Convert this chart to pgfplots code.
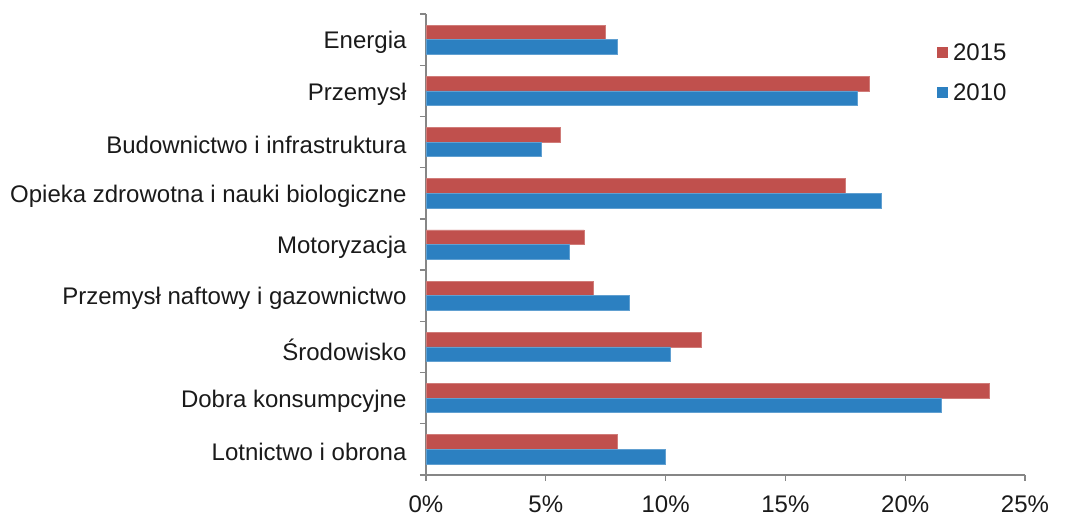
\documentclass[border=0pt]{standalone}
\usepackage{pgfplots}
\pgfplotsset{compat=1.18}
\usepackage{fontspec}
\setmainfont{Liberation Sans}
\definecolor{cred}{RGB}{192,80,77}
\definecolor{cblue}{RGB}{44,128,193}
\definecolor{axgray}{RGB}{134,134,134}
\definecolor{txt}{RGB}{26,26,26}
\begin{document}
\begin{tikzpicture}
\begin{axis}[
  scale only axis,
  width=599pt, height=461pt,
  xbar,
  bar width=14.6pt,
  xmin=0, xmax=25,
  ymin=-0.5, ymax=8.5,
  axis lines*=left,
  axis line style={axgray, line width=1.3pt},
  xtick={0,5,10,15,20,25},
  xticklabels={0\%,5\%,10\%,15\%,20\%,25\%},
  ytick={0,1,2,3,4,5,6,7,8},
  yticklabels={Lotnictwo i obrona,Dobra konsumpcyjne,Środowisko,Przemysł naftowy i gazownictwo,Motoryzacja,Opieka zdrowotna i nauki biologiczne,Budownictwo i infrastruktura,Przemysł,Energia},
  minor ytick={-0.5,0.5,...,8.5},
  major y tick style={draw=none},
  minor tick length=6pt,
  major tick length=6pt,
  tick align=outside,
  tick style={axgray, line width=1.3pt},
  tick label style={font=\fontsize{24}{28}\selectfont, text=txt},
  yticklabel style={xshift=-10pt, yshift=-3pt},
  xticklabel style={yshift=-11pt},
  legend style={at={(0.853,0.9407)}, anchor=north west, draw=none, fill=none,
    font=\fontsize{24}{28}\selectfont, text=txt, row sep=18pt,
    cells={anchor=west}, inner sep=0pt},
  legend image code/.code={\fill[#1,draw=none] (0pt,-5.5pt) rectangle (11pt,5.5pt);},
  legend cell align=left,
]
\addplot[fill=cred, draw=cred!75!white, line width=0.6pt, bar shift=7.3pt] coordinates {
(8.0,0) (23.5,1) (11.5,2) (7.0,3) (6.6,4) (17.5,5) (5.6,6) (18.5,7) (7.5,8)};
\addlegendentry{\hspace{3pt}2015}
\addplot[fill=cblue, draw=cblue!75!white, line width=0.6pt, bar shift=-7.3pt] coordinates {
(10.0,0) (21.5,1) (10.2,2) (8.5,3) (6.0,4) (19.0,5) (4.8,6) (18.0,7) (8.0,8)};
\addlegendentry{\hspace{3pt}2010}
\end{axis}
\path (current axis.south west) ++(-426pt,-39pt) rectangle ++(1065pt,514pt);
\end{tikzpicture}
\end{document}
